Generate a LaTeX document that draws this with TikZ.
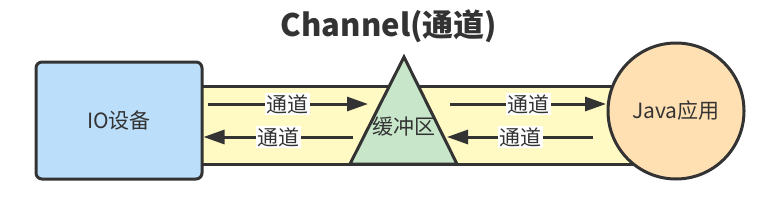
\documentclass[tikz,border=0pt]{standalone}
\usepackage{fontspec}
\setmainfont{Noto Sans CJK SC}
\usetikzlibrary{arrows.meta}
\definecolor{devblue}{HTML}{BBDEFB}
\definecolor{chanyellow}{HTML}{FFF9C4}
\definecolor{bufgreen}{HTML}{C8E6C9}
\definecolor{apporange}{HTML}{FFE0B2}
\definecolor{inkgrey}{HTML}{333333}

\begin{document}
\begin{tikzpicture}[x=1pt,y=-1pt,font=\fontsize{21}{24}\selectfont,text=inkgrey,
  shapebase/.style={draw=inkgrey,line width=3pt,inner sep=0pt},
  device/.style={shapebase,fill=devblue,rounded corners=6pt,minimum width=166pt,
                 minimum height=117pt},
  app/.style={shapebase,fill=apporange,circle,minimum size=136pt},
  flow/.style={draw=inkgrey,line width=3pt,-{Triangle[length=21pt,width=14pt]}},
  chanlab/.style={fill=white,inner sep=1.5pt,text=inkgrey}]
\useasboundingbox (0,0) rectangle (778,209);
% channel band behind everything
\draw[shapebase,fill=chanyellow] (200,86) rectangle (640,164);
\node[device] (io) at (119,120.5) {IO设备};
\draw[shapebase,fill=bufgreen,line join=miter] (404,57) -- (457,164) -- (350,164) -- cycle;
\node (buf) at (404,127) {缓冲区};
\node[app] (java) at (676,111) {Java应用};
\node[font=\fontsize{31}{34}\selectfont\bfseries] (title) at (389,26) {Channel(通道)};
% arrow ends
\coordinate (bufinL) at (368,104);
\coordinate (bufoutL) at (353,137);
\coordinate (bufoutR) at (450,104);
\coordinate (bufinR) at (447,137);
\coordinate (javain) at (606,104);
\coordinate (javaout) at (593,137);
\draw[flow] ([xshift=4pt,yshift=16.5pt]io.east) -- node[chanlab] (c1) {通道} (bufinL);
\draw[flow] (bufoutL) -- node[chanlab] (c2) {通道} ([yshift=-16.5pt]io.east);
\draw[flow] (bufoutR) -- node[chanlab] (c3) {通道} (javain);
\draw[flow] (javaout) -- node[chanlab] (c4) {通道} (bufinR);
\end{tikzpicture}
\end{document}
